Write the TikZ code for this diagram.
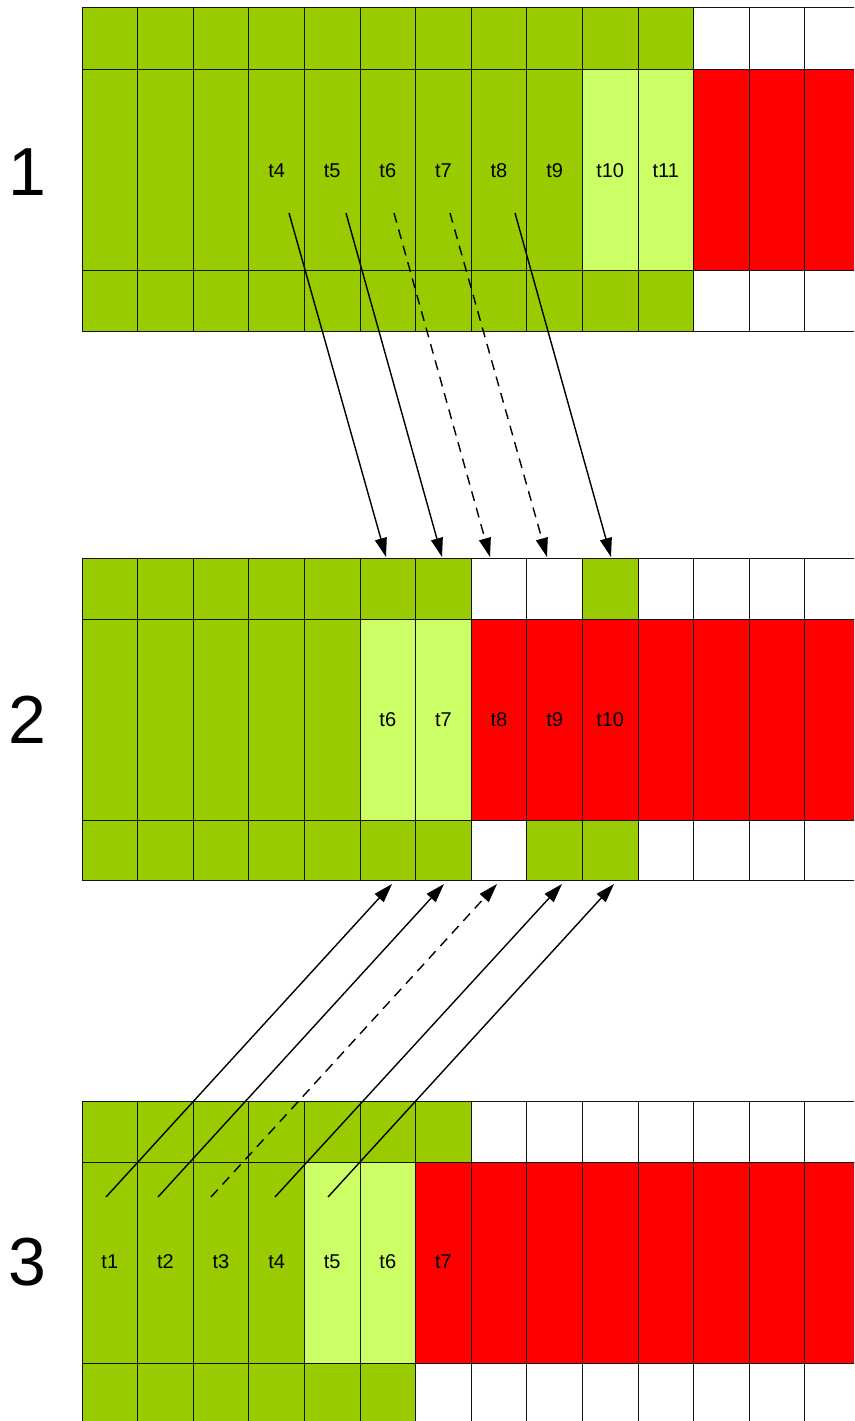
\documentclass[tikz,border=0pt]{standalone}
\usepackage{fontspec}
\setmainfont{Liberation Sans}
\usetikzlibrary{arrows.meta}
\definecolor{G}{RGB}{153,204,0}
\definecolor{L}{RGB}{204,255,102}
\definecolor{R}{RGB}{255,0,0}
\definecolor{W}{RGB}{255,255,255}
\definecolor{gridline}{RGB}{20,20,20}
\newcommand{\gridrow}[3]{%
  \foreach \cc [count=\i from 0] in {#3} {
    \filldraw[fill=\cc, draw=gridline, line width=1pt]
      ({82+55.6*\i},#1) rectangle ({82+55.6*(\i+1)},#2);
  }}
\tikzset{
  lbl/.style={font=\fontsize{20}{20}\selectfont, inner sep=0pt},
  num/.style={font=\fontsize{68}{68}\selectfont, inner sep=0pt},
  arr/.style={line width=1.4pt, -{Triangle[length=19pt,width=12pt]}},
  dsh/.style={dash pattern=on 10pt off 7pt},
}
\begin{document}
\begin{tikzpicture}[x=1pt,y=-1pt]
\useasboundingbox (0,0) rectangle (854,1421);
\clip (0,0) rectangle (854,1421);
\fill[white] (0,0) rectangle (854,1421);
% panel 1
\gridrow{8}{70}{G,G,G,G,G,G,G,G,G,G,G,W,W,W}
\gridrow{70}{270}{G,G,G,G,G,G,G,G,G,L,L,R,R,R}
\gridrow{270}{331}{G,G,G,G,G,G,G,G,G,G,G,W,W,W}
% panel 2
\gridrow{558}{619}{G,G,G,G,G,G,G,W,W,G,W,W,W,W}
\gridrow{619}{820}{G,G,G,G,G,L,L,R,R,R,R,R,R,R}
\gridrow{820}{880}{G,G,G,G,G,G,G,W,G,G,W,W,W,W}
% panel 3
\gridrow{1101}{1162}{G,G,G,G,G,G,G,W,W,W,W,W,W,W}
\gridrow{1162}{1363}{G,G,G,G,L,L,R,R,R,R,R,R,R,R}
\gridrow{1363}{1430}{G,G,G,G,G,G,W,W,W,W,W,W,W,W}
% panel numbers
\node[num] (n1) at (27,172) {1};
\node[num] (n2) at (27,720) {2};
\node[num] (n3) at (27,1262) {3};
% labels
\foreach \k [count=\i from 3] in {4,5,6,7,8,9,10,11}
  \node[lbl] (p1t\k) at ({82+55.6*(\i+0.5)},171) {t\k};
\foreach \k [count=\i from 5] in {6,7,8,9,10}
  \node[lbl] (p2t\k) at ({82+55.6*(\i+0.5)},720) {t\k};
\foreach \k [count=\i from 0] in {1,2,3,4,5,6,7}
  \node[lbl] (p3t\k) at ({82+55.6*(\i+0.5)},1262) {t\k};
% arrows 1 -> 2
\coordinate (a1s) at (289,213); \coordinate (a1e) at (386,557);
\coordinate (a2s) at (346,213); \coordinate (a2e) at (442,557);
\coordinate (a3s) at (394,213); \coordinate (a3e) at (490,557);
\coordinate (a4s) at (450,213); \coordinate (a4e) at (547,557);
\coordinate (a5s) at (515,213); \coordinate (a5e) at (611,557);
\draw[arr] (a1s) -- (a1e);
\draw[arr] (a2s) -- (a2e);
\draw[arr,dsh] (a3s) -- (a3e);
\draw[arr,dsh] (a4s) -- (a4e);
\draw[arr] (a5s) -- (a5e);
% arrows 3 -> 2
\coordinate (b1s) at (106,1197); \coordinate (b1e) at (392,884);
\coordinate (b2s) at (158,1197); \coordinate (b2e) at (444,884);
\coordinate (b3s) at (211,1197); \coordinate (b3e) at (497,884);
\coordinate (b4s) at (275,1197); \coordinate (b4e) at (562,884);
\coordinate (b5s) at (328,1197); \coordinate (b5e) at (614,884);
\draw[arr] (b1s) -- (b1e);
\draw[arr] (b2s) -- (b2e);
\draw[arr,dsh] (b3s) -- (b3e);
\draw[arr] (b4s) -- (b4e);
\draw[arr] (b5s) -- (b5e);
\end{tikzpicture}
\end{document}
